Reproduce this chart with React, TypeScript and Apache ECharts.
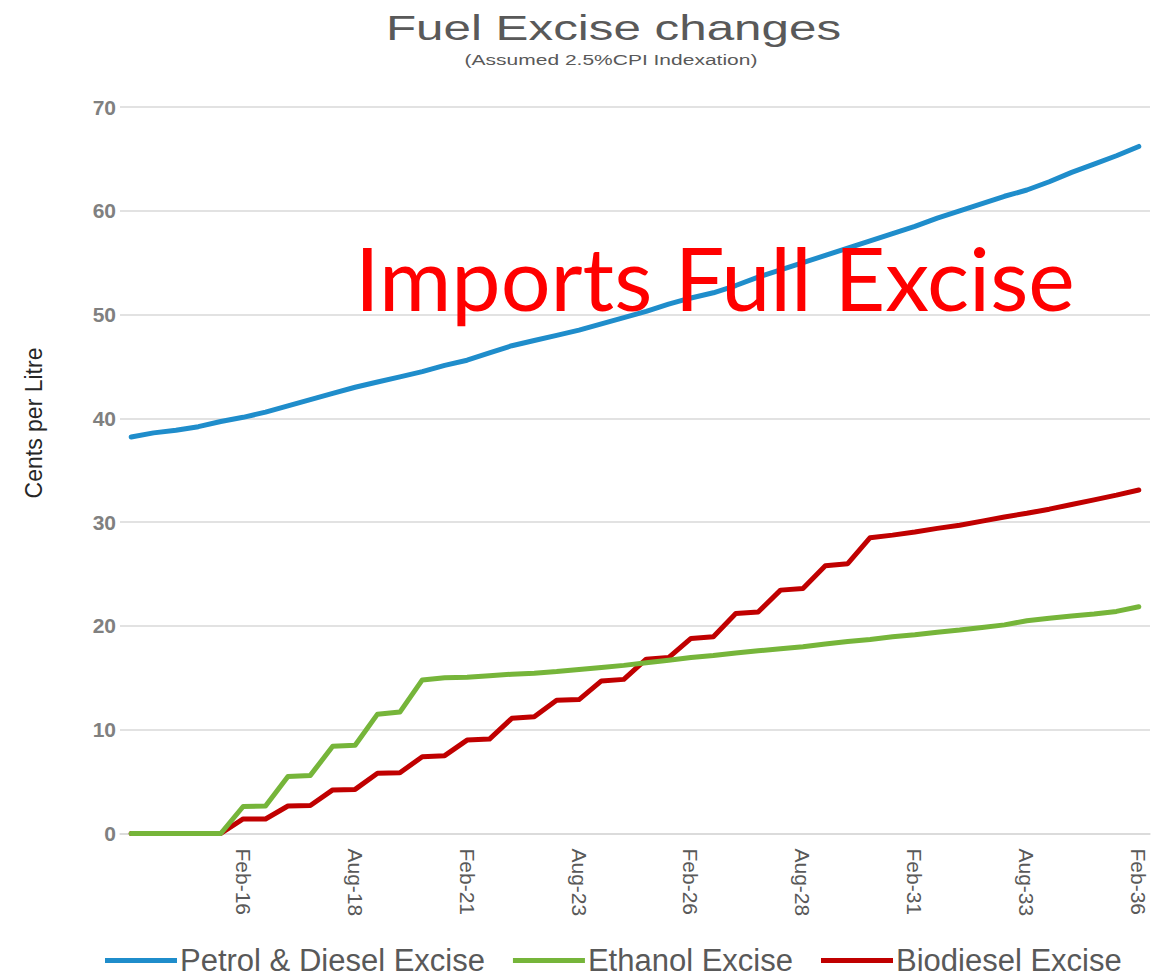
import React, { useEffect, useRef } from "react";
import * as echarts from "echarts";

const categories = [
  "Aug-13", "Feb-14", "Aug-14", "Feb-15", "Aug-15", "Feb-16", "Aug-16", "Feb-17", "Aug-17", "Feb-18",
  "Aug-18", "Feb-19", "Aug-19", "Feb-20", "Aug-20", "Feb-21", "Aug-21", "Feb-22", "Aug-22", "Feb-23",
  "Aug-23", "Feb-24", "Aug-24", "Feb-25", "Aug-25", "Feb-26", "Aug-26", "Feb-27", "Aug-27", "Feb-28",
  "Aug-28", "Feb-29", "Aug-29", "Feb-30", "Aug-30", "Feb-31", "Aug-31", "Feb-32", "Aug-32", "Feb-33",
  "Aug-33", "Feb-34", "Aug-34", "Feb-35", "Aug-35", "Feb-36",
];

const petrolDiesel = [
  38.2, 38.6, 38.85, 39.2, 39.7, 40.1, 40.6, 41.2, 41.8, 42.4,
  43.0, 43.5, 44.0, 44.5, 45.1, 45.6, 46.3, 47.0, 47.5, 48.0,
  48.5, 49.1, 49.7, 50.3, 51.0, 51.6, 52.1, 52.8, 53.6, 54.3,
  55.0, 55.7, 56.4, 57.1, 57.8, 58.5, 59.3, 60.0, 60.7, 61.4,
  62.0, 62.8, 63.7, 64.5, 65.3, 66.2,
];

const ethanol = [
  0, 0, 0, 0, 0, 2.6, 2.65, 5.5, 5.6, 8.4,
  8.5, 11.5, 11.7, 14.8, 15.0, 15.05, 15.2, 15.35, 15.45, 15.6,
  15.8, 16.0, 16.2, 16.45, 16.7, 16.95, 17.15, 17.4, 17.6, 17.8,
  18.0, 18.25, 18.5, 18.7, 18.95, 19.15, 19.4, 19.6, 19.85, 20.1,
  20.5, 20.75, 20.95, 21.15, 21.4, 21.85,
];

const biodiesel = [
  0, 0, 0, 0, 0, 1.4, 1.4, 2.65, 2.7, 4.2,
  4.25, 5.8, 5.85, 7.4, 7.5, 9.0, 9.1, 11.1, 11.25, 12.85,
  12.9, 14.7, 14.85, 16.8, 16.95, 18.8, 18.95, 21.2, 21.35, 23.45,
  23.6, 25.8, 26.0, 28.5, 28.75, 29.05, 29.4, 29.7, 30.1, 30.5,
  30.85, 31.25, 31.7, 32.15, 32.6, 33.1,
];

const seriesNames = ["Petrol & Diesel Excise", "Ethanol Excise", "Biodiesel Excise"];
const seriesColors = ["#1F8DCB", "#76B53A", "#C00000"];
const yTicks = { min: 0, max: 70, interval: 10 };

const titleText = "Fuel Excise changes";
const subtitleText = "(Assumed 2.5%CPI Indexation)";
const yAxisTitle = "Cents per Litre";
const overlayText = "Imports Full Excise";

export default function App() {
  const ref = useRef<HTMLDivElement>(null);

  useEffect(() => {
    if (!ref.current) return;
    const chart = echarts.init(ref.current, undefined, { renderer: "svg" });
    const data = [petrolDiesel, ethanol, biodiesel];
    chart.setOption({
      animation: false,
      backgroundColor: "#ffffff",
      grid: { left: 120, right: 3, top: 107, bottom: 143.5, containLabel: false },
      legend: {
        data: seriesNames,
        left: 105,
        top: 945,
        padding: 0,
        icon: "rect",
        itemWidth: 72,
        itemHeight: 5,
        itemGap: 28,
        textStyle: {
          fontFamily: "Liberation Sans, Arial, sans-serif",
          fontSize: 31,
          lineHeight: 31,
          color: "#595959",
          padding: [0, 0, 0, -2],
        },
      },
      xAxis: {
        type: "category",
        data: categories,
        boundaryGap: true,
        axisLine: { show: true, lineStyle: { color: "#d9d9d9", width: 1.5 } },
        axisTick: { show: false },
        axisLabel: {
          interval: (index: number) => index > 0 && index % 5 === 0,
          rotate: -90,
          margin: 15,
          fontFamily: "Liberation Sans, Arial, sans-serif",
          fontSize: 21,
          color: "#595959",
        },
        splitLine: { show: false },
      },
      yAxis: {
        type: "value",
        min: yTicks.min,
        max: yTicks.max,
        interval: yTicks.interval,
        axisLine: { show: false },
        axisTick: { show: false },
        axisLabel: {
          margin: 4,
          fontFamily: "Liberation Sans, Arial, sans-serif",
          fontSize: 21,
          fontWeight: "bold",
          color: "#808080",
        },
        splitLine: { show: true, lineStyle: { color: "#d9d9d9", width: 1.5 } },
      },
      series: seriesNames.map((name, i) => ({
        name,
        type: "line",
        data: data[i],
        showSymbol: false,
        symbol: "none",
        smooth: false,
        lineStyle: { color: seriesColors[i], width: 5, cap: "round", join: "round" },
        itemStyle: { color: seriesColors[i] },
        z: 3 - i,
      })),
      graphic: [
        {
          type: "text",
          x: 613.5,
          y: 27.5,
          scaleX: 1.41,
          style: {
            text: titleText,
            textAlign: "center",
            verticalAlign: "middle",
            fontFamily: "Liberation Sans, Arial, sans-serif",
            fontSize: 35,
            fill: "#595959",
          },
        },
        {
          type: "text",
          x: 611,
          y: 60,
          scaleX: 1.4,
          style: {
            text: subtitleText,
            textAlign: "center",
            verticalAlign: "middle",
            fontFamily: "Liberation Sans, Arial, sans-serif",
            fontSize: 15,
            fill: "#595959",
          },
        },
        {
          type: "text",
          x: 34,
          y: 423,
          rotation: Math.PI / 2,
          style: {
            text: yAxisTitle,
            textAlign: "center",
            verticalAlign: "middle",
            fontFamily: "Liberation Sans, Arial, sans-serif",
            fontSize: 23,
            fill: "#262626",
          },
        },
        {
          type: "text",
          x: 355,
          y: 277,
          z: 100,
          style: {
            text: overlayText,
            textAlign: "left",
            verticalAlign: "middle",
            fontFamily: "Lato, Carlito, Calibri, sans-serif",
            fontSize: 88,
            fill: "#FF0000",
          },
        },
      ],
    });
    return () => chart.dispose();
  }, []);

  return (
    <div
      ref={ref}
      style={{ position: "fixed", left: 0, top: 0, width: 1153, height: 977, background: "#fff" }}
    />
  );
}
